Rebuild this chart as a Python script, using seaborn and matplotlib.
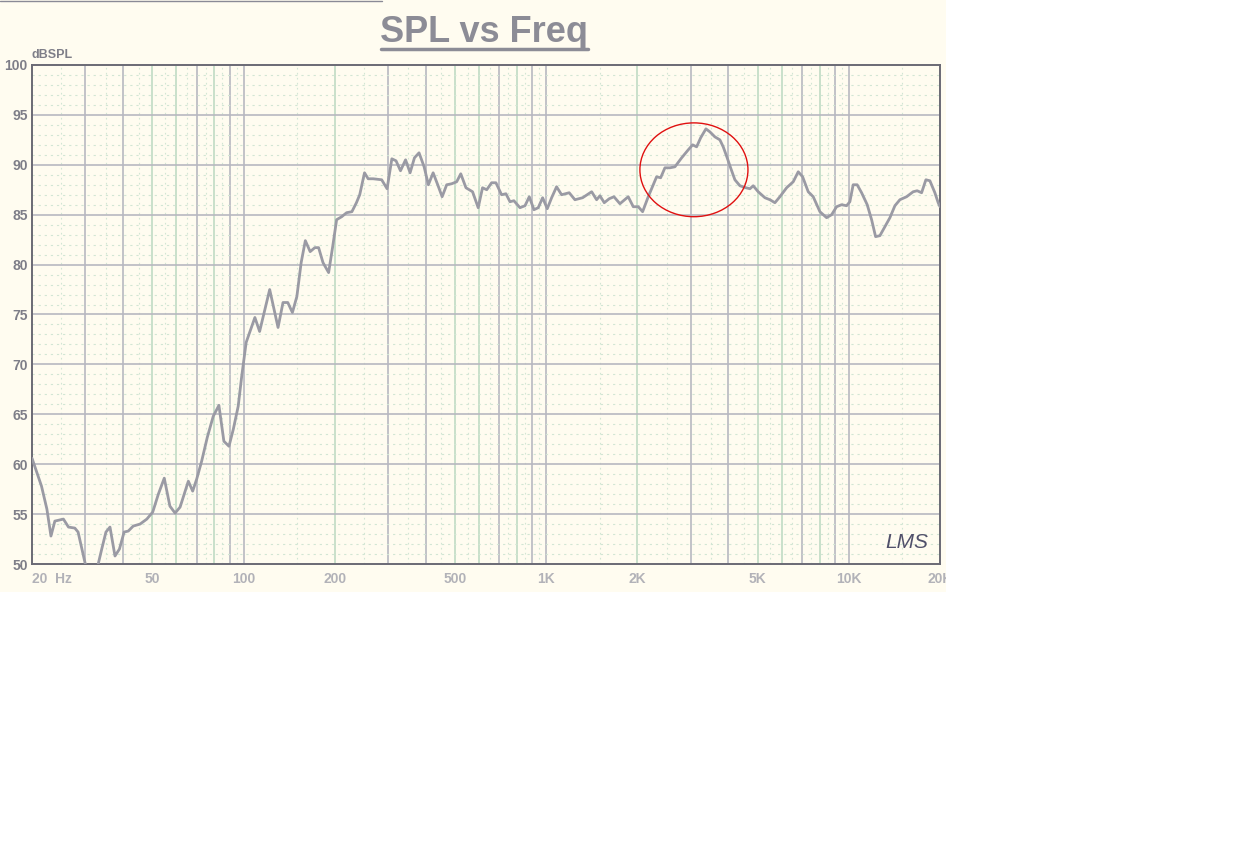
import numpy as np
import matplotlib
matplotlib.use('Agg')
import matplotlib.pyplot as plt
import seaborn as sns
from matplotlib.patches import Rectangle, Ellipse
from matplotlib.lines import Line2D

# frequency response (Hz, dB SPL)
freq_hz = [20, 21.5, 22.4, 23.1, 23.8, 25.4, 26.4, 27.7, 28.4, 29.9,
           30.6, 31.8, 32.8, 34.0, 35.1, 36.2, 37.6, 38.9, 40.3, 41.6,
           43.2, 45.5, 47.9, 50.1, 52.3, 54.7, 57.1, 59.4, 61.7, 65.7,
           67.9, 70.0, 72.7, 75.9, 79.4, 82.9, 86.1, 89.5, 92.5, 96.0,
           98.6, 102, 109, 113, 122, 130, 135, 140, 145, 150,
           155, 160, 166, 172, 177, 183, 191, 197, 203, 211,
           219, 228, 236, 242, 251, 258, 268, 286, 298, 309,
           319, 330, 343, 355, 367, 380, 395, 408, 423, 438,
           453, 469, 487, 506, 522, 543, 571, 596, 616, 636,
           660, 682, 712, 736, 759, 782, 819, 851, 879, 911,
           941, 973, 1008, 1042, 1082, 1124, 1191, 1244, 1319, 1413,
           1467, 1505, 1555, 1615, 1674, 1752, 1866, 1939, 2014, 2082,
           2173, 2257, 2316, 2388, 2467, 2563, 2662, 2802, 2946, 3046,
           3140, 3237, 3370, 3474, 3608, 3748, 3844, 3962, 4066, 4201,
           4365, 4568, 4710, 4829, 5016, 5279, 5484, 5696, 5916, 6227,
           6547, 6802, 7033, 7339, 7623, 8022, 8441, 8768, 9107, 9459,
           9825, 10075, 10331, 10649, 11016, 11496, 11886, 12253, 12661, 13153,
           13663, 14192, 14741, 15511, 16309, 16815, 17387, 17964, 18519, 19236,
           19726, 20000]
spl_db = [60.6, 57.8, 55.5, 52.8, 54.3, 54.5, 53.7, 53.6, 53.2, 50.2,
          49.0, 48.7, 49.5, 51.5, 53.2, 53.7, 50.8, 51.5, 53.2, 53.3,
          53.8, 54.0, 54.5, 55.2, 57.0, 58.6, 55.8, 55.1, 55.7, 58.3,
          57.3, 58.5, 60.3, 62.7, 64.8, 65.9, 62.3, 61.8, 63.5, 65.8,
          68.8, 72.2, 74.7, 73.3, 77.5, 73.7, 76.2, 76.2, 75.2, 76.8,
          80.2, 82.4, 81.3, 81.7, 81.7, 80.2, 79.2, 81.8, 84.5, 84.8,
          85.2, 85.3, 86.2, 87.0, 89.2, 88.6, 88.6, 88.5, 87.6, 90.6,
          90.4, 89.4, 90.5, 89.2, 90.7, 91.2, 89.8, 88.0, 89.2, 88.0,
          86.8, 88.0, 88.1, 88.3, 89.1, 87.7, 87.3, 85.7, 87.7, 87.5,
          88.2, 88.2, 87.0, 87.1, 86.3, 86.4, 85.7, 85.9, 86.8, 85.5,
          85.7, 86.7, 85.6, 86.7, 87.8, 87.0, 87.2, 86.5, 86.7, 87.3,
          86.5, 86.9, 86.2, 86.6, 86.8, 86.1, 86.8, 85.8, 85.8, 85.3,
          86.8, 88.0, 88.8, 88.7, 89.7, 89.7, 89.8, 90.7, 91.5, 92.0,
          91.8, 92.7, 93.6, 93.3, 92.8, 92.5, 91.8, 90.7, 89.7, 88.5,
          87.9, 87.7, 87.6, 87.9, 87.3, 86.7, 86.5, 86.2, 86.8, 87.7,
          88.3, 89.3, 88.8, 87.3, 86.8, 85.3, 84.7, 85.0, 85.8, 86.0,
          85.9, 86.3, 88.0, 88.0, 87.2, 86.0, 84.5, 82.8, 82.9, 83.8,
          84.7, 85.9, 86.5, 86.8, 87.3, 87.4, 87.2, 88.5, 88.4, 87.2,
          86.2, 85.8]

x_ticks = [20, 50, 100, 200, 500, 1000, 2000, 5000, 10000, 20000]
x_labels = ['20  Hz', '50', '100', '200', '500', '1K', '2K', '5K', '10K', '20K']
y_ticks = [50, 55, 60, 65, 70, 75, 80, 85, 90, 95, 100]

cream = '#fffcf0'
grey_txt = '#7e7e88'

sns.set_style('white')
plt.rcParams['font.family'] = ['Liberation Sans', 'DejaVu Sans']

W, H = 1253, 863
fig = plt.figure(figsize=(W / 100, H / 100), dpi=100, facecolor='white')

# scanned paper area
paper = Rectangle((0, 1 - 592 / H), 946 / W, 592 / H, transform=fig.transFigure,
                  facecolor=cream, edgecolor='none', zorder=-5)
fig.patches.append(paper)
fig.lines.append(Line2D([0, 382 / W], [1 - 1 / H, 1 - 1 / H], transform=fig.transFigure,
                        color='#8a8a96', lw=1))

ax = fig.add_axes([32 / W, 1 - 564 / H, (940 - 32) / W, (564 - 65) / H])
ax.set_facecolor(cream)
ax.set_xscale('log')
ax.set_xlim(20, 20000)
ax.set_ylim(50, 100)

# graph paper grid
for dec in [10, 100, 1000, 10000]:
    for m in range(1, 10):
        f = dec * m
        if 20 < f < 20000:
            col = '#c0dbc4' if m in (2, 5, 6, 8) else '#b8b8c0'
            ax.axvline(f, color=col, lw=1.2, zorder=1)
        fh = dec * (m + 0.5)
        if 20 < fh < 20000:
            ax.axvline(fh, color='#d2e6d4', lw=0.8, ls=(0, (1.5, 3)), zorder=1)
for v in range(51, 100):
    if v % 5:
        ax.axhline(v, color='#d2e6d4', lw=0.8, ls=(0, (2, 3.5)), zorder=1)
    else:
        ax.axhline(v, color='#b8b8c0', lw=1.2, zorder=1)

sns.lineplot(x=freq_hz, y=spl_db, ax=ax, color='#9a9aa4', lw=2.0, sort=False, zorder=3)

# hand-drawn red loop around the peak
ax.add_patch(Ellipse((0.729, 0.790), 0.119, 0.188, transform=ax.transAxes,
                     fill=False, ec='#e01010', lw=1.0, zorder=4))

ax.set_xticks(x_ticks)
ax.set_xticklabels(x_labels)
ax.xaxis.set_minor_locator(matplotlib.ticker.NullLocator())
ax.set_yticks(y_ticks)
ax.set_yticklabels([str(v) for v in y_ticks])
ax.tick_params(axis='x', length=0, pad=6, labelsize=10, labelcolor='#b2b2b8')
ax.tick_params(axis='y', length=0, pad=3, labelsize=10, labelcolor=grey_txt)
for lab in ax.get_xticklabels():
    lab.set_fontweight('bold')
    lab.set_clip_path(paper)
ax.get_xticklabels()[0].set_ha('left')
for lab in ax.get_yticklabels():
    lab.set_fontweight('bold')
ax.set_xlabel('')
ax.set_ylabel('')
for s in ax.spines.values():
    s.set_visible(True)
    s.set_color('#6a6a74')
    s.set_linewidth(1.4)

fig.text(31 / W, 1 - 55 / H, 'dBSPL', ha='left', va='center', fontsize=9,
         fontweight='bold', color=grey_txt)

# title with underline
fig.text(484 / W, 1 - 33 / H, 'SPL vs Freq', ha='center', va='center', fontsize=26,
         fontweight='bold', color='#8c8c96')
fig.lines.append(Line2D([381 / W, 588 / W], [1 - 49 / H, 1 - 49 / H], transform=fig.transFigure,
                        color='#8c8c96', lw=2.5))

fig.text(907 / W, 1 - 543 / H, 'LMS', ha='center', va='center', fontsize=15,
         style='italic', color='#50506a')

fig.savefig('out.png', dpi=100, facecolor='white')
